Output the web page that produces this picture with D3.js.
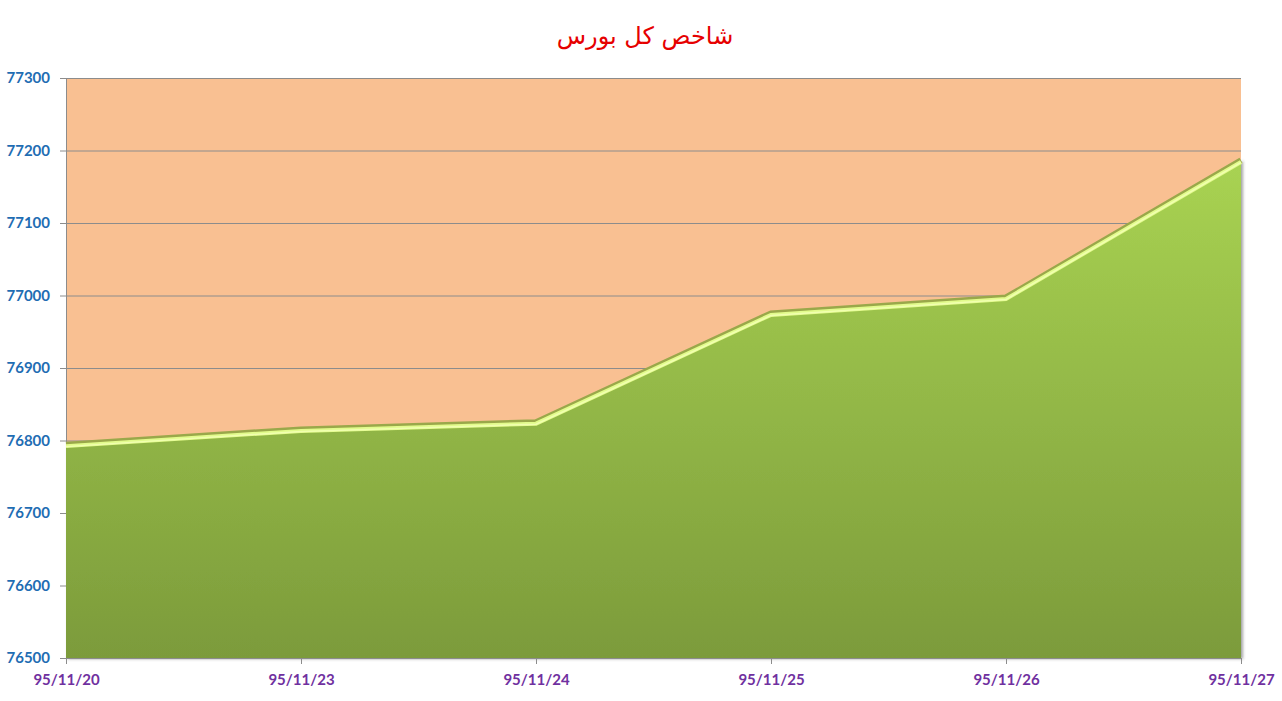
<!DOCTYPE html>
<html>
<head>
<meta charset="utf-8">
<script src="https://cdn.jsdelivr.net/npm/d3@7"></script>
<style>
  body { margin: 0; background: #fff; }
  svg { display: block; }
</style>
</head>
<body>
<div id="vis"></div>
<script>
const dates = ["95/11/20", "95/11/23", "95/11/24", "95/11/25", "95/11/26", "95/11/27"];
const values = [76795, 76816, 76826, 76976, 76998, 77187];
const yTicks = [76500, 76600, 76700, 76800, 76900, 77000, 77100, 77200, 77300];
const title = "شاخص کل بورس";

const width = 1282, height = 701;
const margin = { top: 78, right: 41, bottom: 43, left: 66 };

const svg = d3.select("#vis").append("svg")
  .attr("width", width)
  .attr("height", height);

const x = d3.scalePoint()
  .domain(dates)
  .range([margin.left, width - margin.right]);

const y = d3.scaleLinear()
  .domain([76500, 77300])
  .range([height - margin.bottom, margin.top]);

const data = dates.map((d, i) => ({ date: d, value: values[i] }));

const defs = svg.append("defs");
const grad = defs.append("linearGradient")
  .attr("id", "areaFill")
  .attr("gradientUnits", "userSpaceOnUse")
  .attr("x1", 0).attr("x2", 0)
  .attr("y1", y(77300)).attr("y2", y(76500));
grad.append("stop").attr("offset", "0%").attr("stop-color", "#b0dc56");
grad.append("stop").attr("offset", "100%").attr("stop-color", "#7c9b3b");

const shadow = defs.append("filter").attr("id", "shadow")
  .attr("x", "-5%").attr("y", "-5%").attr("width", "110%").attr("height", "110%");
shadow.append("feDropShadow")
  .attr("dx", 2).attr("dy", 1).attr("stdDeviation", 1.5)
  .attr("flood-color", "#333").attr("flood-opacity", 0.45);

// plot background
svg.append("rect")
  .attr("x", margin.left)
  .attr("y", margin.top)
  .attr("width", width - margin.right - margin.left)
  .attr("height", height - margin.bottom - margin.top)
  .attr("fill", "#f9c092");

// gridlines + y labels
const yAxis = svg.append("g")
  .attr("transform", `translate(${margin.left},0)`)
  .call(d3.axisLeft(y).tickValues(yTicks).tickFormat(d3.format("d"))
    .tickSizeInner(-(width - margin.right - margin.left)).tickSizeOuter(0).tickPadding(16));
yAxis.select(".domain").attr("stroke", "#8c8c8c");
yAxis.selectAll(".tick line").attr("stroke", "#8c8c8c").attr("x1", -6);
yAxis.selectAll(".tick text")
  .attr("fill", "#1f6db3")
  .style("font", "bold 15px Lato, 'DejaVu Sans', sans-serif");

// area
const area = d3.area()
  .x(d => x(d.date))
  .y0(y(76500))
  .y1(d => y(d.value));

const line = d3.line()
  .x(d => x(d.date))
  .y(d => y(d.value));

svg.append("path")
  .datum(data)
  .attr("d", area)
  .attr("fill", "url(#areaFill)")
  .attr("filter", "url(#shadow)");

// bevel on top edge
svg.append("path")
  .datum(data)
  .attr("d", line)
  .attr("fill", "none")
  .attr("stroke", "#9aa84a")
  .attr("stroke-width", 6)
  .attr("transform", "translate(0,0.5)");
svg.append("path")
  .datum(data)
  .attr("d", line)
  .attr("fill", "none")
  .attr("stroke", "#e2fb8c")
  .attr("stroke-width", 4)
  .attr("transform", "translate(0,2)");
svg.append("path")
  .datum(data)
  .attr("d", line)
  .attr("fill", "none")
  .attr("stroke", "#f0ffb0")
  .attr("stroke-width", 1.5)
  .attr("transform", "translate(0,2.5)");

// x axis
const xAxis = svg.append("g")
  .attr("transform", `translate(0,${height - margin.bottom})`)
  .call(d3.axisBottom(x).tickSizeInner(6).tickSizeOuter(0).tickPadding(10));
xAxis.select(".domain").attr("stroke", "#8c8c8c");
xAxis.selectAll(".tick line").attr("stroke", "#8c8c8c");
xAxis.selectAll(".tick text")
  .attr("fill", "#7030a0")
  .style("font", "bold 15px Lato, 'DejaVu Sans', sans-serif");

// title
svg.append("text")
  .attr("x", 645)
  .attr("y", 44)
  .attr("text-anchor", "middle")
  .attr("fill", "#e60000")
  .style("font", "24px 'DejaVu Sans', sans-serif")
  .text(title);
</script>
</body>
</html>
